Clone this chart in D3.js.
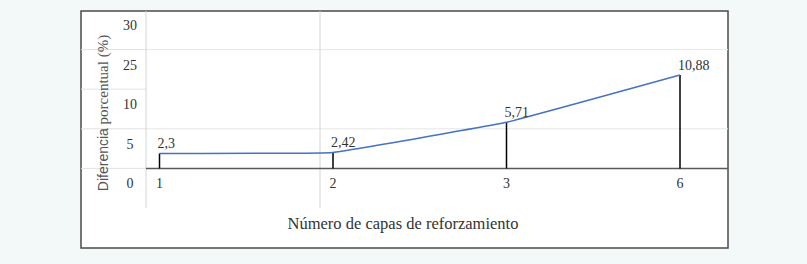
<!DOCTYPE html>
<html>
<head>
<meta charset="utf-8">
<script src="https://cdn.jsdelivr.net/npm/d3@7"></script>
<style>
  body { margin: 0; background: #f3f8f8; }
  text { font-family: "Liberation Serif", serif; fill: #333; }
</style>
</head>
<body>
<div id="chart"></div>
<script>

//////////
// DATA //
//////////

var capas = ['1', '2', '3', '6'];
var diferencia = [2.3, 2.42, 5.71, 10.88];
var filas = ['30', '25', '10', '5', '0'];

var tituloX = 'Número de capas de reforzamiento',
    tituloY1 = 'Diferencia',
    tituloY2 = ' porcentual (%)';

/////////////////////
// INITIAL SETTINGS //
/////////////////////

var w = 807,
    h = 264;

var box = { left: 81, right: 728, top: 11, bottom: 248 },
    colX = 146;

var es = d3.formatLocale({ decimal: ',', thousands: '.', grouping: [3], currency: ['', ' €'] });
var formatValue = es.format('');

var svg = d3.select('#chart')
    .append('svg')
    .attr('width', w)
    .attr('height', h);

////////////
// SCALES //
////////////

// table rows on the left
var rowScale = d3.scaleBand()
    .domain(filas)
    .range([10, 208]);

var baseline = rowScale('0');

var xScale = d3.scalePoint()
    .domain(capas)
    .range([159.5, 680]);

var yScale = d3.scaleLinear()
    .domain([0.67, 10.88])
    .range([baseline, 75]);

/////////
// BOX //
/////////

svg.append('rect')
    .attr('x', box.left)
    .attr('y', box.top)
    .attr('width', box.right - box.left)
    .attr('height', box.bottom - box.top)
    .attr('fill', '#fff')
    .attr('stroke', '#4a4a4a')
    .attr('stroke-width', 1.5);

//////////
// GRID //
//////////

// row separators in label column
svg.selectAll('.rowline')
    .data(filas.slice(1))
    .enter()
    .append('line')
    .attr('class', 'rowline')
    .attr('x1', box.left)
    .attr('x2', colX)
    .attr('y1', function(d) { return rowScale(d); })
    .attr('y2', function(d) { return rowScale(d); })
    .attr('stroke', '#e2e2e2');

// horizontal lines inside plot
svg.selectAll('.hgrid')
    .data(['25', '5'])
    .enter()
    .append('line')
    .attr('class', 'hgrid')
    .attr('x1', colX)
    .attr('x2', box.right)
    .attr('y1', function(d) { return rowScale(d); })
    .attr('y2', function(d) { return rowScale(d); })
    .attr('stroke', '#e6e6e6');

// vertical lines
svg.selectAll('.vgrid')
    .data([colX, 320])
    .enter()
    .append('line')
    .attr('class', 'vgrid')
    .attr('x1', function(d) { return d; })
    .attr('x2', function(d) { return d; })
    .attr('y1', box.top)
    .attr('y2', 208)
    .attr('stroke', '#d4d4d4');

///////////
// LABELS //
///////////

svg.selectAll('.rowlabel')
    .data(filas)
    .enter()
    .append('text')
    .attr('class', 'rowlabel')
    .attr('x', 130)
    .attr('y', function(d) { return rowScale(d) + 20; })
    .attr('text-anchor', 'middle')
    .style('font-size', '14px')
    .text(function(d) { return d; });

svg.selectAll('.xlabel')
    .data(capas)
    .enter()
    .append('text')
    .attr('class', 'xlabel')
    .attr('x', function(d) { return xScale(d); })
    .attr('y', baseline + 20)
    .attr('text-anchor', 'middle')
    .style('font-size', '14px')
    .text(function(d) { return d; });

// axis line
svg.append('line')
    .attr('x1', colX)
    .attr('x2', box.right)
    .attr('y1', baseline)
    .attr('y2', baseline)
    .attr('stroke', '#595959')
    .attr('stroke-width', 1.5);

//////////////////
// DATA ELEMENTS //
//////////////////

var points = capas.map(function(c, i) { return { capa: c, valor: diferencia[i] }; });

svg.selectAll('.stem')
    .data(points)
    .enter()
    .append('line')
    .attr('class', 'stem')
    .attr('x1', function(d) { return xScale(d.capa); })
    .attr('x2', function(d) { return xScale(d.capa); })
    .attr('y1', baseline)
    .attr('y2', function(d) { return yScale(d.valor); })
    .attr('stroke', '#000')
    .attr('stroke-width', 1.5);

var line = d3.line()
    .x(function(d) { return xScale(d.capa); })
    .y(function(d) { return yScale(d.valor); })
    .curve(d3.curveCardinal.tension(0.8));

svg.append('path')
    .datum(points)
    .attr('d', line)
    .attr('fill', 'none')
    .attr('stroke', '#4472c4')
    .attr('stroke-width', 1.5);

svg.selectAll('.valuelabel')
    .data(points)
    .enter()
    .append('text')
    .attr('class', 'valuelabel')
    .attr('x', function(d) { return xScale(d.capa) - 2; })
    .attr('y', function(d) { return yScale(d.valor) - 5; })
    .style('font-size', '14px')
    .text(function(d) { return formatValue(d.valor); });

////////////
// TITLES //
////////////

svg.append('text')
    .attr('x', 403)
    .attr('y', 229)
    .attr('text-anchor', 'middle')
    .style('font-size', '16.5px')
    .text(tituloX);

var ty = svg.append('text')
    .attr('transform', 'translate(108,113) rotate(-90)')
    .attr('text-anchor', 'middle')
    .style('font-size', '15px')
    .style('fill', '#555');

ty.append('tspan')
    .style('font-family', '"Liberation Sans", sans-serif')
    .style('font-size', '14px')
    .text(tituloY1);

ty.append('tspan')
    .text(tituloY2);

</script>
</body>
</html>
